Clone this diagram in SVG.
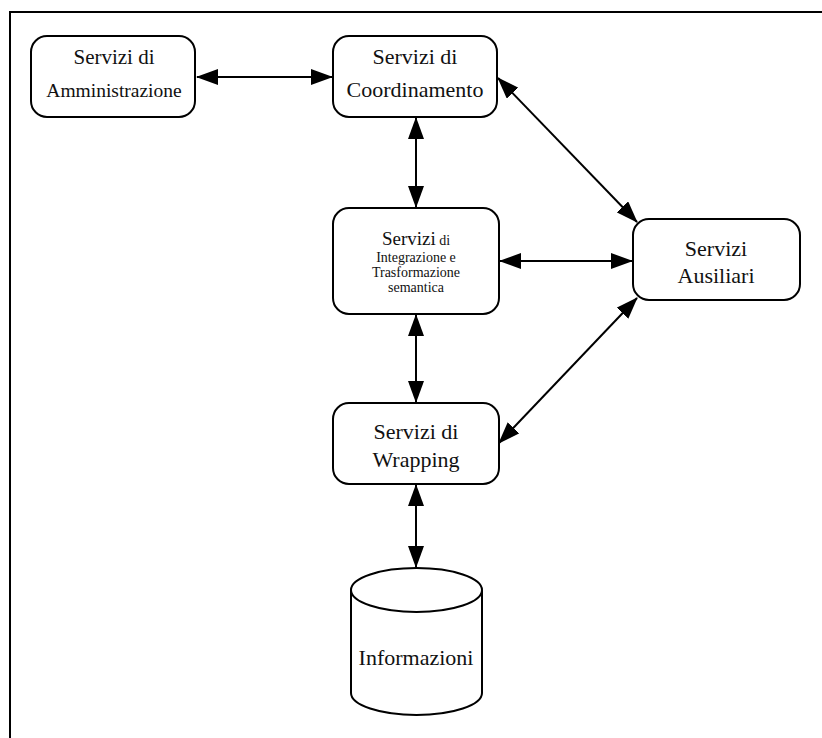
<svg xmlns="http://www.w3.org/2000/svg" width="822" height="738" viewBox="0 0 822 738">
  <style>
    .box { fill: #ffffff; stroke: #000000; stroke-width: 2; }
    .lbl { font-family: "Liberation Serif", "Times New Roman", serif; fill: #111111; text-anchor: middle; }
    .big { font-size: 22px; }
    .small { font-size: 14px; }
    .link { stroke: #000000; stroke-width: 2; fill: none; marker-start: url(#head); marker-end: url(#head); }
    .frame { stroke: #000000; stroke-width: 2; fill: none; }
  </style>
  <defs>
    <marker id="head" viewBox="0 0 22 16" markerUnits="userSpaceOnUse" markerWidth="22" markerHeight="16" refX="21" refY="8" orient="auto-start-reverse">
      <path d="M0,0 L22,8 L0,16 z" fill="#000000"/>
    </marker>
  </defs>

  <rect width="822" height="738" fill="#ffffff"/>

  <!-- frame: only top and left edges fall inside the page -->
  <path class="frame" d="M10,738 L10,12 L822,12"/>

  <g id="connectors">
    <line class="link" x1="197" y1="77" x2="332" y2="77"/>
    <line class="link" x1="416" y1="118" x2="416" y2="207"/>
    <line class="link" x1="498" y1="78" x2="637" y2="222"/>
    <line class="link" x1="500" y1="261" x2="632" y2="261"/>
    <line class="link" x1="637" y1="298" x2="499" y2="443"/>
    <line class="link" x1="416" y1="315" x2="416" y2="402"/>
    <line class="link" x1="416" y1="485" x2="416" y2="567"/>
  </g>

  <g id="amministrazione">
    <rect class="box" x="31" y="36" width="164" height="81" rx="16" ry="16"/>
    <text class="lbl" x="114" y="64" font-size="21px">Servizi di</text>
    <text class="lbl" x="114" y="97" font-size="19.5px">Amministrazione</text>
  </g>

  <g id="coordinamento">
    <rect class="box" x="333" y="36" width="164" height="81" rx="16" ry="16"/>
    <text class="lbl big" x="415" y="64">Servizi di</text>
    <text class="lbl big" x="415" y="97">Coordinamento</text>
  </g>

  <g id="integrazione">
    <rect class="box" x="333" y="208" width="166" height="106" rx="16" ry="16"/>
    <text class="lbl" x="416" y="245"><tspan font-size="19px">Servizi</tspan><tspan font-size="14px"> di</tspan></text>
    <text class="lbl small" x="416" y="262">Integrazione e</text>
    <text class="lbl small" x="416" y="277">Trasformazione</text>
    <text class="lbl small" x="416" y="292">semantica</text>
  </g>

  <g id="ausiliari">
    <rect class="box" x="633" y="219" width="167" height="81" rx="16" ry="16"/>
    <text class="lbl big" x="716" y="256">Servizi</text>
    <text class="lbl big" x="716" y="283">Ausiliari</text>
  </g>

  <g id="wrapping">
    <rect class="box" x="333" y="403" width="166" height="81" rx="16" ry="16"/>
    <text class="lbl big" x="416" y="439">Servizi di</text>
    <text class="lbl big" x="416" y="467">Wrapping</text>
  </g>

  <g id="informazioni">
    <path class="box" d="M351,590 L351,693 A65.5,22 0 0 0 482,693 L482,590 A65.5,22 0 0 0 351,590 Z"/>
    <path class="box" d="M351,590 A65.5,22 0 0 0 482,590" fill="none"/>
    <text class="lbl big" x="416" y="665">Informazioni</text>
  </g>
</svg>
